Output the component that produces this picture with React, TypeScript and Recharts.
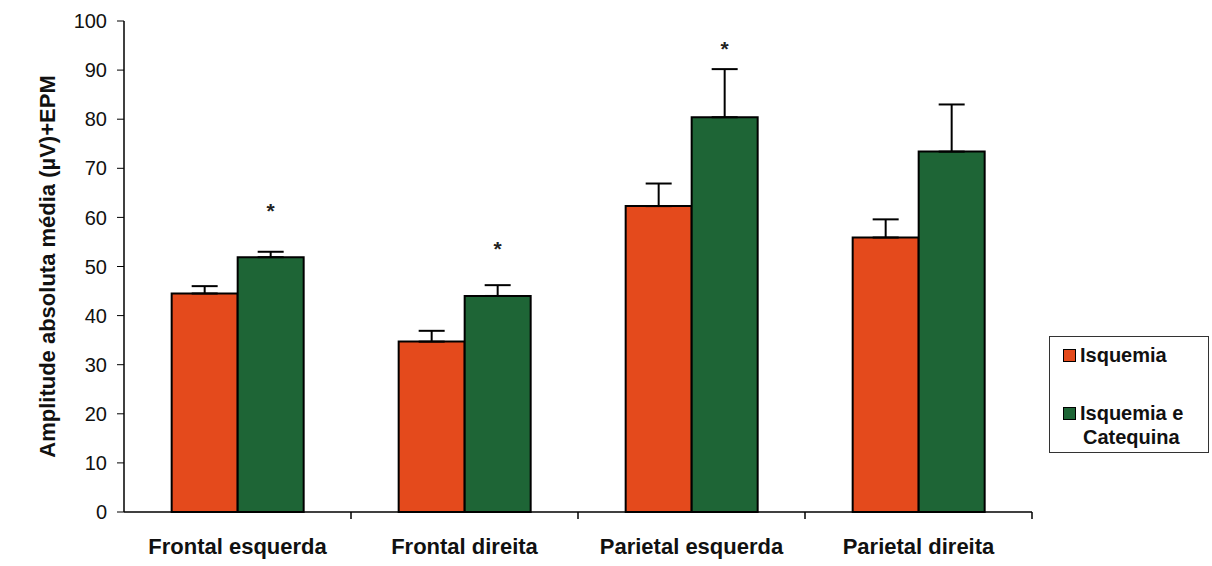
import React from 'react';
import { BarChart, Bar, XAxis, YAxis, Legend, ErrorBar, LabelList, Label } from 'recharts';

const regions = ['Frontal esquerda', 'Frontal direita', 'Parietal esquerda', 'Parietal direita'];
const isquemia = [44.5, 34.7, 62.3, 55.9];
const isquemiaErr = [1.5, 2.2, 4.6, 3.7];
const catequina = [51.9, 44.0, 80.4, 73.4];
const catequinaErr = [1.1, 2.2, 9.8, 9.6];
// where the significance asterisk sits (in axis units), null = none
const stars = [62.3, 54.6, 95.4, null];
const yTicks = [0, 10, 20, 30, 40, 50, 60, 70, 80, 90, 100];

const RED = '#E44A1C';
const GREEN = '#1E6536';
const FONT = '"Liberation Sans", Arial, sans-serif';

const data = regions.map((name, i) => ({
  name,
  isq: isquemia[i],
  isqErr: [0, isquemiaErr[i]],
  cat: catequina[i],
  catErr: [0, catequinaErr[i]],
  star: stars[i],
}));

// category label plus a tick mark at the right edge of each band
const RegionTick = (props: any) => {
  const { x, y, payload } = props;
  const edge = x + (payload.offset || 0);
  return (
    <g>
      <line x1={edge} y1={y} x2={edge} y2={y + 7} stroke="#000" strokeWidth={1.5} />
      <text x={x} y={y + 42} textAnchor="middle" fontFamily={FONT} fontWeight="bold" fontSize={22} fill="#111">
        {payload.value}
      </text>
    </g>
  );
};

const StarLabel = (props: any) => {
  const { x, y, width, height, value, index } = props;
  if (value == null) return null;
  const base = y + height;
  const perUnit = height / catequina[index];
  const cy = base - value * perUnit;
  return (
    <text x={x + width / 2} y={cy + 12} textAnchor="middle" fontFamily={FONT} fontWeight="bold" fontSize={21} fill="#222">
      *
    </text>
  );
};

const YTitle = (props: any) => {
  const { viewBox } = props;
  const cy = viewBox.y + viewBox.height / 2;
  return (
    <text
      x={47}
      y={cy}
      transform={`rotate(-90, 47, ${cy})`}
      textAnchor="middle"
      dominantBaseline="central"
      fontFamily={FONT}
      fontWeight="bold"
      fontSize={22}
      fill="#111"
    >
      Amplitude absoluta média (µV)+EPM
    </text>
  );
};

const LegendBox = () => (
  <div
    style={{
      width: 160,
      height: 117,
      border: '1.5px solid #333',
      boxSizing: 'border-box',
      fontFamily: FONT,
      fontWeight: 'bold',
      fontSize: 20,
      color: '#111',
      padding: '6px 0 0 13px',
      background: '#fff',
    }}
  >
    <div style={{ display: 'flex', alignItems: 'center', height: 24 }}>
      <span style={{ width: 11, height: 11, background: RED, border: '1.5px solid #000', marginRight: 4 }} />
      Isquemia
    </div>
    <div style={{ display: 'flex', alignItems: 'center', height: 24, marginTop: 34 }}>
      <span style={{ width: 11, height: 11, background: GREEN, border: '1.5px solid #000', marginRight: 4 }} />
      Isquemia e
    </div>
    <div style={{ paddingLeft: 20, lineHeight: '24px' }}>Catequina</div>
  </div>
);

export default function App() {
  return (
    <div style={{ position: 'absolute', left: 0, top: 0, width: 1212, height: 566, background: '#fff' }}>
      <BarChart
        width={1212}
        height={566}
        data={data}
        margin={{ top: 21, right: 180, bottom: 0, left: 0 }}
        barCategoryGap="21%"
        barGap={0}
      >
        <XAxis
          dataKey="name"
          axisLine={{ stroke: '#000', strokeWidth: 1.5 }}
          tickLine={false}
          tickSize={0}
          tickMargin={0}
          tick={<RegionTick />}
          interval={0}
          height={54}
        />
        <YAxis
          domain={[0, 100]}
          ticks={yTicks}
          interval={0}
          width={124}
          axisLine={{ stroke: '#000', strokeWidth: 1.5 }}
          tickLine={{ stroke: '#000', strokeWidth: 1 }}
          tickSize={7}
          tickMargin={10}
          tick={{ fontFamily: FONT, fontSize: 20, fill: '#111' }}
        >
          <Label content={<YTitle />} />
        </YAxis>
        <Legend
          layout="vertical"
          align="center"
          verticalAlign="middle"
          content={<LegendBox />}
          wrapperStyle={{ left: 1049, top: 336, width: 160, height: 117 }}
        />
        <Bar dataKey="isq" name="Isquemia" fill={RED} stroke="#000" strokeWidth={2} isAnimationActive={false}>
          <ErrorBar dataKey="isqErr" direction="y" width={13} stroke="#000" strokeWidth={2} isAnimationActive={false} />
        </Bar>
        <Bar dataKey="cat" name="Isquemia e Catequina" fill={GREEN} stroke="#000" strokeWidth={2} isAnimationActive={false}>
          <ErrorBar dataKey="catErr" direction="y" width={13} stroke="#000" strokeWidth={2} isAnimationActive={false} />
          <LabelList dataKey="star" content={<StarLabel />} />
        </Bar>
      </BarChart>
    </div>
  );
}
